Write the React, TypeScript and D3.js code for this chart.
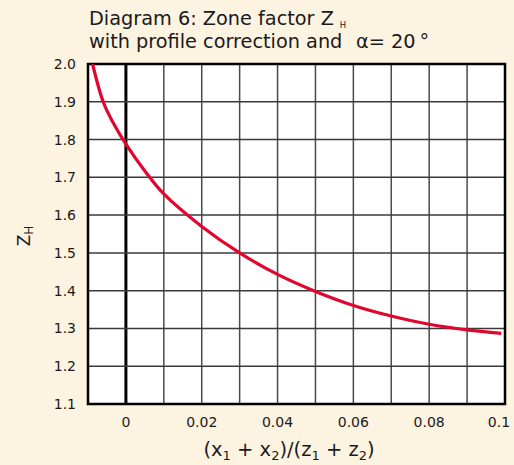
import React, { useEffect, useRef } from "react";
import * as d3 from "d3";

// curve
const ratio = [-0.0088, -0.006, -0.0034, 0, 0.005, 0.01, 0.02, 0.03, 0.04, 0.05, 0.06, 0.07, 0.08, 0.09, 0.099];
const zoneFactor = [2.0, 1.9, 1.845, 1.788, 1.717, 1.656, 1.57, 1.5, 1.443, 1.398, 1.361, 1.333, 1.311, 1.296, 1.287];

const xTicks = [0, 0.02, 0.04, 0.06, 0.08, 0.1];
const xTickLabels = ["0", "0.02", "0.04", "0.06", "0.08", "0.1"];
const yTicks = [1.1, 1.2, 1.3, 1.4, 1.5, 1.6, 1.7, 1.8, 1.9, 2.0];

const App = () => {
  const svgRef = useRef<SVGSVGElement>(null);

  useEffect(() => {
    const width = 514;
    const height = 465;
    const margin = { top: 64, right: 9, bottom: 61, left: 88 };
    const font = "'DejaVu Sans', sans-serif";

    const svg = d3.select(svgRef.current).attr("width", width).attr("height", height);
    svg.selectAll("*").remove();

    svg.append("rect").attr("width", width).attr("height", height).attr("fill", "#fdf3e1");

    const x = d3.scaleLinear().domain([-0.01, 0.1]).range([margin.left, width - margin.right]);
    const y = d3.scaleLinear().domain([1.1, 2.0]).range([height - margin.bottom, margin.top]);

    // plot background
    svg
      .append("rect")
      .attr("x", x(-0.01))
      .attr("y", y(2.0))
      .attr("width", x(0.1) - x(-0.01))
      .attr("height", y(1.1) - y(2.0))
      .attr("fill", "#fff");

    // grid
    const vLines = d3.range(0, 10).map((i) => i / 100);
    svg
      .append("g")
      .selectAll("line")
      .data(vLines)
      .join("line")
      .attr("x1", (d) => x(d))
      .attr("x2", (d) => x(d))
      .attr("y1", y(2.0))
      .attr("y2", y(1.1))
      .attr("stroke", (d) => (d === 0 ? "#000" : "#4a4a4a"))
      .attr("stroke-width", (d) => (d === 0 ? 3 : 1.5));

    svg
      .append("g")
      .selectAll("line")
      .data(yTicks)
      .join("line")
      .attr("x1", x(-0.01))
      .attr("x2", x(0.1))
      .attr("y1", (d) => y(d))
      .attr("y2", (d) => y(d))
      .attr("stroke", "#3a3a3a")
      .attr("stroke-width", 1.5);

    // border
    svg
      .append("rect")
      .attr("x", x(-0.01))
      .attr("y", y(2.0))
      .attr("width", x(0.1) - x(-0.01))
      .attr("height", y(1.1) - y(2.0))
      .attr("fill", "none")
      .attr("stroke", "#000")
      .attr("stroke-width", 2.5);

    // curve
    const line = d3
      .line<number>()
      .x((d, i) => x(ratio[i]))
      .y((d) => y(d))
      .curve(d3.curveCatmullRom.alpha(0.5));

    svg
      .append("path")
      .datum(zoneFactor)
      .attr("fill", "none")
      .attr("stroke", "#e0062e")
      .attr("stroke-width", 3.2)
      .attr("d", line);

    // y tick labels
    svg
      .append("g")
      .selectAll("text")
      .data(yTicks)
      .join("text")
      .attr("x", 76)
      .attr("y", (d) => y(d) + 5)
      .attr("text-anchor", "end")
      .attr("font-family", font)
      .attr("font-size", 14)
      .attr("fill", "#1a1a1a")
      .text((d) => d.toFixed(1));

    // x tick labels
    svg
      .append("g")
      .selectAll("text")
      .data(xTicks)
      .join("text")
      .attr("x", (d, i) => x(d) + (i === xTicks.length - 1 ? -6 : 0))
      .attr("y", 427)
      .attr("text-anchor", "middle")
      .attr("font-family", font)
      .attr("font-size", 14)
      .attr("fill", "#1a1a1a")
      .text((d, i) => xTickLabels[i]);

    // title
    const title = svg
      .append("g")
      .attr("font-family", font)
      .attr("font-size", 19.3)
      .attr("fill", "#1a1a1a");
    const t1 = title.append("text").attr("x", 89).attr("y", 25);
    t1.append("tspan").text("Diagram 6: Zone factor Z");
    t1.append("tspan").attr("dx", 6).attr("dy", 3).attr("font-size", 8.5).text("H");
    const t2 = title.append("text").attr("x", 89).attr("y", 47.5);
    t2.append("tspan").text("with profile correction and");
    t2.append("tspan").attr("x", 356).text("α");
    t2.append("tspan").text("= 20");
    t2.append("tspan").attr("dx", 4).text("°");

    // axis titles
    const xt = svg
      .append("text")
      .attr("x", 289)
      .attr("y", 456)
      .attr("text-anchor", "middle")
      .attr("font-family", font)
      .attr("font-size", 19.5)
      .attr("fill", "#1a1a1a");
    xt.append("tspan").text("(x");
    xt.append("tspan").attr("dy", 4).attr("font-size", 13).text("1");
    xt.append("tspan").attr("dy", -4).text(" + x");
    xt.append("tspan").attr("dy", 4).attr("font-size", 13).text("2");
    xt.append("tspan").attr("dy", -4).text(")/(z");
    xt.append("tspan").attr("dy", 4).attr("font-size", 13).text("1");
    xt.append("tspan").attr("dy", -4).text(" + z");
    xt.append("tspan").attr("dy", 4).attr("font-size", 13).text("2");
    xt.append("tspan").attr("dy", -4).text(")");

    const yt = svg
      .append("text")
      .attr("transform", "translate(30,236) rotate(-90)")
      .attr("text-anchor", "middle")
      .attr("font-family", font)
      .attr("font-size", 17)
      .attr("fill", "#1a1a1a");
    yt.append("tspan").text("Z");
    yt.append("tspan").attr("dy", 3).attr("font-size", 12).text("H");
  }, []);

  return <svg ref={svgRef} style={{ position: "absolute", left: 0, top: 0 }}></svg>;
};

export default App;
